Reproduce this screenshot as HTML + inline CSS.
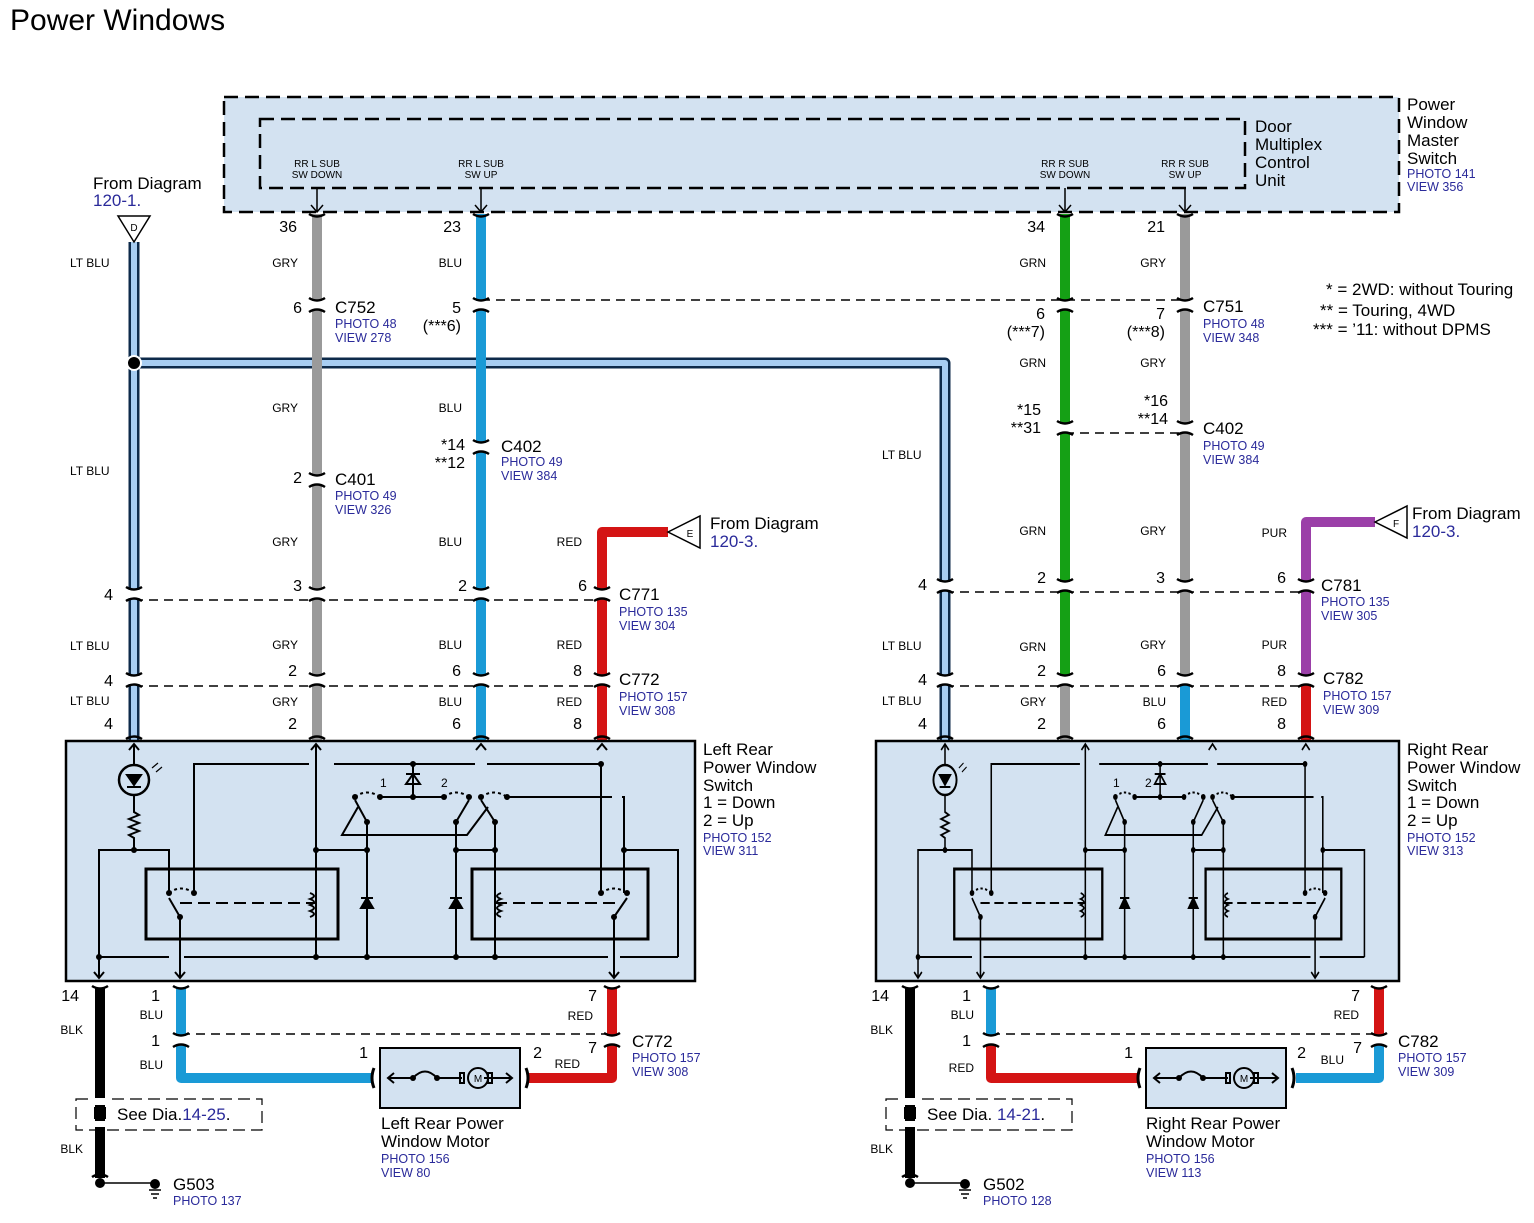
<!DOCTYPE html>
<html><head><meta charset="utf-8"><style>
html,body{margin:0;padding:0;background:#fff}
svg{display:block}
text{font-family:"Liberation Sans",Arial,sans-serif;fill:#000}
.b{font-size:17px}.s{font-size:12.5px;fill:#2a2a9a}.w{font-size:12px}.t{font-size:10px}.p{font-size:16px}
</style></head><body>
<svg width="1534" height="1223" viewBox="0 0 1534 1223" xmlns="http://www.w3.org/2000/svg">
<defs>
<g id="c"><rect x="-9" y="-4" width="18" height="8" fill="#fff"/><path d="M-8,-7 Q0,-2 8,-7 M-8,7 Q0,2 8,7" fill="none" stroke="#000" stroke-width="2.5"/></g>
<g id="ct"><path d="M-8,-2 Q0,3 8,-2" fill="none" stroke="#000" stroke-width="2.5"/></g>
<g id="cb"><path d="M-8,2 Q0,-3 8,2" fill="none" stroke="#000" stroke-width="2.5"/></g>
<g id="sw" fill="none" stroke="#000" stroke-width="2">
 <ellipse cx="134" cy="780" rx="15" ry="15" stroke-width="2.5"/>
 <path d="M134,744V765M134,795V812l5,3-10,4 10,4-10,4 10,4-10,4 5,3V850"/>
 <path d="M127,775h14l-7,10z" fill="#000"/><path d="M127,787h14"/>
 <path d="M152,768l6,-5M156,772l6,-5" stroke-width="1.2"/>
 <path d="M99,978V850H169V893"/>
 <path d="M194,893V764H309M334,764H475M487,764H601"/>
 <path d="M601,764V893"/>
 <path d="M413,764V797M406,784h14l-7,-10zM380,797H444"/>
 <path d="M406,774h14" />
 <path d="M507,797H612M622,797H624V893"/>
 <path d="M624,850H678V957"/>
 <path d="M316,744V957M367,822V957M456,822V957M495,822V957"/>
 <path d="M316,850H367M456,850H495"/>
 <path d="M99,957H169M184,957H608M620,957H678"/>
 <path d="M367,822L355,800M456,822L469,800M495,822L481,800M180,917L169,898M614,917L627,898"/>
 <path d="M358,807L342,835H467L488,807"/>
 <path d="M180,917V978M614,917V978"/>
 <path d="M355,797Q367,788 380,797M444,797Q456,788 469,797M481,797Q494,788 507,797M169,893Q181,884 194,893M601,893Q614,884 627,893" stroke-dasharray="3,3"/>
 <path d="M180,903H316M495,903H620" stroke-dasharray="12,6"/>
 <rect x="146" y="869" width="192" height="70" stroke-width="3"/>
 <rect x="472" y="869" width="176" height="70" stroke-width="3"/>
 <path d="M310,893q8,3 0,6q8,3 0,6q8,3 0,6q8,3 0,6M501,893q-8,3 0,6q-8,3 0,6q-8,3 0,6q-8,3 0,6" />
 <path d="M361,908h12l-6,-10zM361,898h12M450,908h12l-6,-10zM450,898h12" fill="#000"/>
 <path d="M129,750l5,-6 5,6M311,750l5,-6 5,6M476,750l5,-6 5,6M597,750l5,-6 5,6M94,972l5,6 5,-6M175,972l5,6 5,-6M609,972l5,6 5,-6"/>
 <g fill="#000" stroke="none"><circle cx="134" cy="850" r="3"/><circle cx="413" cy="764" r="3"/><circle cx="413" cy="797" r="3"/><circle cx="380" cy="797" r="3"/><circle cx="444" cy="797" r="3"/><circle cx="355" cy="797" r="3"/><circle cx="469" cy="797" r="3"/><circle cx="481" cy="797" r="3"/><circle cx="507" cy="797" r="3"/><circle cx="367" cy="822" r="3"/><circle cx="456" cy="822" r="3"/><circle cx="495" cy="822" r="3"/><circle cx="316" cy="850" r="3"/><circle cx="367" cy="850" r="3"/><circle cx="456" cy="850" r="3"/><circle cx="495" cy="850" r="3"/><circle cx="624" cy="850" r="3"/><circle cx="601" cy="764" r="3"/><circle cx="169" cy="893" r="3"/><circle cx="194" cy="893" r="3"/><circle cx="180" cy="917" r="3"/><circle cx="601" cy="893" r="3"/><circle cx="627" cy="893" r="3"/><circle cx="614" cy="917" r="3"/><circle cx="99" cy="957" r="3"/><circle cx="316" cy="957" r="3"/><circle cx="367" cy="957" r="3"/><circle cx="456" cy="957" r="3"/><circle cx="495" cy="957" r="3"/></g>
</g>
</defs>

<text x="10" y="30" style="font-size:30px">Power Windows</text>

<rect x="224" y="97" width="1175" height="115" fill="#d3e2f1" stroke="#000" stroke-width="2.5" stroke-dasharray="14,7"/>
<rect x="260" y="119" width="985" height="69" fill="none" stroke="#000" stroke-width="2.5" stroke-dasharray="14,7"/>
<g stroke="#000" stroke-width="1.5" fill="none"><path d="M317,188V212M311,205l6,7 6,-7M481,188V212M475,205l6,7 6,-7M1065,188V212M1059,205l6,7 6,-7M1185,188V212M1179,205l6,7 6,-7"/></g>
<g class="t" text-anchor="middle"><text x="317" y="167" class="t">RR L SUB</text><text x="317" y="178" class="t">SW DOWN</text><text x="481" y="167" class="t">RR L SUB</text><text x="481" y="178" class="t">SW UP</text><text x="1065" y="167" class="t">RR R SUB</text><text x="1065" y="178" class="t">SW DOWN</text><text x="1185" y="167" class="t">RR R SUB</text><text x="1185" y="178" class="t">SW UP</text></g>
<text class="b" x="1255" y="132">Door</text><text class="b" x="1255" y="150">Multiplex</text><text class="b" x="1255" y="168">Control</text><text class="b" x="1255" y="186">Unit</text>
<text class="b" x="1407" y="110">Power</text><text class="b" x="1407" y="128">Window</text><text class="b" x="1407" y="146">Master</text><text class="b" x="1407" y="164">Switch</text><text class="s" x="1407" y="178">PHOTO 141</text><text class="s" x="1407" y="191">VIEW 356</text>

<g stroke="#000" stroke-width="1.5" stroke-dasharray="9,6" fill="none">
<path d="M481,300H1185M1065,433H1185M134,600H602M945,592H1306M134,686H602M945,686H1306M181,1034H612M991,1034H1379"/>
</g>

<g fill="none" stroke-width="10" stroke-linejoin="round">
<path d="M134,242V740M134,363H945V740" stroke="#0d2a4a" stroke-width="11"/>
<path d="M134,242V740M134,363H945V740" stroke="#a7cdf2" stroke-width="6"/>
<path d="M317,214V740" stroke="#9a9a9a"/>
<path d="M481,214V740" stroke="#1a9ad6"/>
<path d="M668,532H602V740" stroke="#d41414"/>
<path d="M1065,214V682" stroke="#15a015"/><path d="M1065,682V740" stroke="#9a9a9a"/>
<path d="M1185,214V682" stroke="#9a9a9a"/><path d="M1185,682V740" stroke="#1a9ad6"/>
<path d="M1375,522H1306V682" stroke="#9b3fa8"/><path d="M1306,682V740" stroke="#d41414"/>
<path d="M100,988V1178" stroke="#000"/>
<path d="M181,988V1078H372" stroke="#1a9ad6"/>
<path d="M612,988V1078H528" stroke="#d41414"/>
<path d="M910,988V1178" stroke="#000"/>
<path d="M991,988V1036" stroke="#1a9ad6"/><path d="M991,1036V1078H1137" stroke="#d41414"/>
<path d="M1379,988V1036" stroke="#d41414"/><path d="M1379,1036V1078H1296" stroke="#1a9ad6"/>
</g>
<circle cx="134" cy="363" r="7" fill="#000" stroke="#fff" stroke-width="2"/>

<g>
<use href="#c" x="317" y="305"/><use href="#c" x="481" y="305"/><use href="#c" x="1065" y="305"/><use href="#c" x="1185" y="305"/>
<use href="#c" x="317" y="480"/><use href="#c" x="481" y="447"/><use href="#c" x="1065" y="428"/><use href="#c" x="1185" y="428"/>
<use href="#c" x="134" y="594"/><use href="#c" x="317" y="594"/><use href="#c" x="481" y="594"/><use href="#c" x="602" y="594"/>
<use href="#c" x="945" y="586"/><use href="#c" x="1065" y="586"/><use href="#c" x="1185" y="586"/><use href="#c" x="1306" y="586"/>
<use href="#c" x="134" y="680"/><use href="#c" x="317" y="680"/><use href="#c" x="481" y="680"/><use href="#c" x="602" y="680"/>
<use href="#c" x="945" y="680"/><use href="#c" x="1065" y="680"/><use href="#c" x="1185" y="680"/><use href="#c" x="1306" y="680"/>
<use href="#ct" x="317" y="216"/><use href="#ct" x="481" y="216"/><use href="#ct" x="1065" y="216"/><use href="#ct" x="1185" y="216"/>
<use href="#cb" x="134" y="737"/><use href="#cb" x="317" y="737"/><use href="#cb" x="481" y="737"/><use href="#cb" x="602" y="737"/>
<use href="#cb" x="945" y="737"/><use href="#cb" x="1065" y="737"/><use href="#cb" x="1185" y="737"/><use href="#cb" x="1306" y="737"/>
<use href="#ct" x="100" y="988"/><use href="#ct" x="181" y="988"/><use href="#ct" x="612" y="988"/>
<use href="#ct" x="910" y="988"/><use href="#ct" x="991" y="988"/><use href="#ct" x="1379" y="988"/>
<use href="#c" x="181" y="1040"/><use href="#c" x="612" y="1040"/><use href="#c" x="991" y="1040"/><use href="#c" x="1379" y="1040"/>
<use href="#cb" x="100" y="1175"/><use href="#cb" x="910" y="1175"/>
</g>

<path d="M118,216H150L134,242Z" fill="#fff" stroke="#000" stroke-width="1.5"/><text x="134" y="231" class="t" text-anchor="middle">D</text>
<path d="M668,532L700,516V548Z" fill="#fff" stroke="#000" stroke-width="1.5"/><text x="690" y="537" class="t" text-anchor="middle">E</text>
<path d="M1375,522L1407,506V538Z" fill="#fff" stroke="#000" stroke-width="1.5"/><text x="1396" y="527" class="t" text-anchor="middle">F</text>
<text class="b" x="93" y="189">From Diagram</text><text class="b" x="93" y="206" style="fill:#2a2a9a">120-1.</text>
<text class="b" x="710" y="529">From Diagram</text><text class="b" x="710" y="547" style="fill:#2a2a9a">120-3.</text>
<text class="b" x="1412" y="519">From Diagram</text><text class="b" x="1412" y="537" style="fill:#2a2a9a">120-3.</text>

<rect x="66" y="741" width="629" height="240" fill="#d3e2f1" stroke="#000" stroke-width="2.5"/>
<rect x="876" y="741" width="523" height="240" fill="#d3e2f1" stroke="#000" stroke-width="2.5"/>
<use href="#sw"/>
<g transform="translate(945,0) scale(0.771,1) translate(-134,0)"><use href="#sw"/></g>
<text x="380" y="787" class="w">1</text><text x="441" y="787" class="w">2</text>
<text x="1113" y="787" class="w">1</text><text x="1145" y="787" class="w">2</text>

<g class="w">
<text x="70" y="267">LT BLU</text><text x="70" y="475">LT BLU</text><text x="70" y="650">LT BLU</text><text x="70" y="705">LT BLU</text>
<text x="882" y="459">LT BLU</text><text x="882" y="650">LT BLU</text><text x="882" y="705">LT BLU</text>
</g>
<g class="w" text-anchor="end">
<text x="298" y="267">GRY</text><text x="298" y="412">GRY</text><text x="298" y="546">GRY</text><text x="298" y="649">GRY</text><text x="298" y="706">GRY</text>
<text x="462" y="267">BLU</text><text x="462" y="412">BLU</text><text x="462" y="546">BLU</text><text x="462" y="649">BLU</text><text x="462" y="706">BLU</text>
<text x="582" y="546">RED</text><text x="582" y="649">RED</text><text x="582" y="706">RED</text>
<text x="1046" y="267">GRN</text><text x="1046" y="367">GRN</text><text x="1046" y="535">GRN</text><text x="1046" y="651">GRN</text><text x="1046" y="706">GRY</text>
<text x="1166" y="267">GRY</text><text x="1166" y="367">GRY</text><text x="1166" y="535">GRY</text><text x="1166" y="649">GRY</text><text x="1166" y="706">BLU</text>
<text x="1287" y="537">PUR</text><text x="1287" y="649">PUR</text><text x="1287" y="706">RED</text>
<text x="83" y="1034">BLK</text><text x="83" y="1153">BLK</text><text x="163" y="1019">BLU</text><text x="163" y="1069">BLU</text><text x="593" y="1020">RED</text><text x="580" y="1068">RED</text>
<text x="893" y="1034">BLK</text><text x="893" y="1153">BLK</text><text x="974" y="1019">BLU</text><text x="974" y="1072">RED</text><text x="1359" y="1019">RED</text><text x="1344" y="1064">BLU</text>
</g>

<g class="p" text-anchor="end">
<text x="297" y="232">36</text><text x="461" y="232">23</text><text x="1045" y="232">34</text><text x="1165" y="232">21</text>
<text x="302" y="313">6</text><text x="461" y="313">5</text><text x="461" y="331">(***6)</text>
<text x="1045" y="319">6</text><text x="1045" y="337">(***7)</text><text x="1165" y="319">7</text><text x="1165" y="337">(***8)</text>
<text x="465" y="450">*14</text><text x="465" y="468">**12</text><text x="302" y="483">2</text>
<text x="1041" y="415">*15</text><text x="1041" y="433">**31</text><text x="1168" y="406">*16</text><text x="1168" y="424">**14</text>
<text x="113" y="600">4</text><text x="302" y="591">3</text><text x="467" y="591">2</text><text x="587" y="591">6</text>
<text x="927" y="590">4</text><text x="1046" y="583">2</text><text x="1165" y="583">3</text><text x="1286" y="583">6</text>
<text x="113" y="686">4</text><text x="297" y="676">2</text><text x="461" y="676">6</text><text x="582" y="676">8</text>
<text x="927" y="685">4</text><text x="1046" y="676">2</text><text x="1166" y="676">6</text><text x="1286" y="676">8</text>
<text x="113" y="729">4</text><text x="297" y="729">2</text><text x="461" y="729">6</text><text x="582" y="729">8</text>
<text x="927" y="729">4</text><text x="1046" y="729">2</text><text x="1166" y="729">6</text><text x="1286" y="729">8</text>
<text x="79" y="1001">14</text><text x="160" y="1001">1</text><text x="160" y="1046">1</text><text x="597" y="1001">7</text><text x="597" y="1053">7</text><text x="368" y="1058">1</text><text x="542" y="1058">2</text>
<text x="889" y="1001">14</text><text x="971" y="1001">1</text><text x="971" y="1046">1</text><text x="1360" y="1001">7</text><text x="1362" y="1053">7</text><text x="1133" y="1058">1</text><text x="1306" y="1058">2</text>
</g>

<text class="b" x="335" y="313">C752</text><text class="s" x="335" y="328">PHOTO 48</text><text class="s" x="335" y="342">VIEW 278</text>
<text class="b" x="335" y="485">C401</text><text class="s" x="335" y="500">PHOTO 49</text><text class="s" x="335" y="514">VIEW 326</text>
<text class="b" x="501" y="452">C402</text><text class="s" x="501" y="466">PHOTO 49</text><text class="s" x="501" y="480">VIEW 384</text>
<text class="b" x="619" y="600">C771</text><text class="s" x="619" y="616">PHOTO 135</text><text class="s" x="619" y="630">VIEW 304</text>
<text class="b" x="619" y="685">C772</text><text class="s" x="619" y="701">PHOTO 157</text><text class="s" x="619" y="715">VIEW 308</text>
<text class="b" x="1203" y="312">C751</text><text class="s" x="1203" y="328">PHOTO 48</text><text class="s" x="1203" y="342">VIEW 348</text>
<text class="b" x="1203" y="434">C402</text><text class="s" x="1203" y="450">PHOTO 49</text><text class="s" x="1203" y="464">VIEW 384</text>
<text class="b" x="1321" y="591">C781</text><text class="s" x="1321" y="606">PHOTO 135</text><text class="s" x="1321" y="620">VIEW 305</text>
<text class="b" x="1323" y="684">C782</text><text class="s" x="1323" y="700">PHOTO 157</text><text class="s" x="1323" y="714">VIEW 309</text>
<text class="b" x="632" y="1047">C772</text><text class="s" x="632" y="1062">PHOTO 157</text><text class="s" x="632" y="1076">VIEW 308</text>
<text class="b" x="1398" y="1047">C782</text><text class="s" x="1398" y="1062">PHOTO 157</text><text class="s" x="1398" y="1076">VIEW 309</text>

<text class="b" x="1326" y="295">* = 2WD: without Touring</text>
<text class="b" x="1320" y="316">** = Touring, 4WD</text>
<text class="b" x="1313" y="335">*** = ’11: without DPMS</text>

<g class="b"><text x="703" y="755">Left Rear</text><text x="703" y="773">Power Window</text><text x="703" y="791">Switch</text><text x="703" y="808">1 = Down</text><text x="703" y="826">2 = Up</text></g>
<text class="s" x="703" y="842">PHOTO 152</text><text class="s" x="703" y="855">VIEW 311</text>
<g class="b"><text x="1407" y="755">Right Rear</text><text x="1407" y="773">Power Window</text><text x="1407" y="791">Switch</text><text x="1407" y="808">1 = Down</text><text x="1407" y="826">2 = Up</text></g>
<text class="s" x="1407" y="842">PHOTO 152</text><text class="s" x="1407" y="855">VIEW 313</text>

<g fill="none" stroke="#000" stroke-width="2">
<rect x="380" y="1048" width="140" height="60" fill="#d3e2f1"/>
<path d="M388,1078H413Q425,1065 437,1078H462M484,1078H512M394,1073l-6,5 6,5M506,1073l6,5-6,5"/>
<circle cx="478" cy="1078" r="10"/><rect x="460" y="1073" width="4" height="10"/><rect x="488" y="1073" width="4" height="10"/>
<path d="M374,1068q-4,10 0,20M526,1068q4,10 0,20" stroke-width="3"/>
<rect x="1146" y="1048" width="140" height="60" fill="#d3e2f1"/>
<path d="M1154,1078H1179Q1191,1065 1203,1078H1228M1250,1078H1278M1160,1073l-6,5 6,5M1272,1073l6,5-6,5"/>
<circle cx="1244" cy="1078" r="10"/><rect x="1226" y="1073" width="4" height="10"/><rect x="1254" y="1073" width="4" height="10"/>
<path d="M1140,1068q-4,10 0,20M1292,1068q4,10 0,20" stroke-width="3"/>
</g>
<g fill="#000"><circle cx="413" cy="1078" r="3"/><circle cx="437" cy="1078" r="3"/><circle cx="1179" cy="1078" r="3"/><circle cx="1203" cy="1078" r="3"/></g>
<text x="478" y="1082" class="t" text-anchor="middle">M</text><text x="1244" y="1082" class="t" text-anchor="middle">M</text>
<g class="b"><text x="381" y="1129">Left Rear Power</text><text x="381" y="1147">Window Motor</text><text x="1146" y="1129">Right Rear Power</text><text x="1146" y="1147">Window Motor</text></g>
<text class="s" x="381" y="1163">PHOTO 156</text><text class="s" x="381" y="1177">VIEW 80</text>
<text class="s" x="1146" y="1163">PHOTO 156</text><text class="s" x="1146" y="1177">VIEW 113</text>

<rect x="76" y="1099" width="186" height="31" fill="none" stroke="#000" stroke-width="1.2" stroke-dasharray="12,6"/>
<rect x="94" y="1107" width="12" height="12" fill="#000"/>
<text class="b" x="117" y="1120">See Dia.<tspan style="fill:#2a2a9a">14-25</tspan>.</text>
<rect x="886" y="1099" width="186" height="31" fill="none" stroke="#000" stroke-width="1.2" stroke-dasharray="12,6"/>
<rect x="904" y="1107" width="12" height="12" fill="#000"/>
<text class="b" x="927" y="1120">See Dia. <tspan style="fill:#2a2a9a">14-21</tspan>.</text>
<rect x="94" y="1098" width="12" height="7" fill="#fff"/><rect x="904" y="1098" width="12" height="7" fill="#fff"/>
<rect x="94" y="1121" width="12" height="6" fill="#fff"/><rect x="904" y="1121" width="12" height="6" fill="#fff"/>

<g stroke="#000" stroke-width="1.5" fill="none"><path d="M100,1183H155M149,1190h12M151,1194h8M153,1198h4M910,1183H965M959,1190h12M961,1194h8M963,1198h4"/></g>
<g fill="#000"><circle cx="100" cy="1183" r="5"/><circle cx="155" cy="1184" r="5"/><circle cx="910" cy="1183" r="5"/><circle cx="965" cy="1184" r="5"/></g>
<text class="b" x="173" y="1190">G503</text><text class="s" x="173" y="1205">PHOTO 137</text>
<text class="b" x="983" y="1190">G502</text><text class="s" x="983" y="1205">PHOTO 128</text>
</svg>
</body></html>
